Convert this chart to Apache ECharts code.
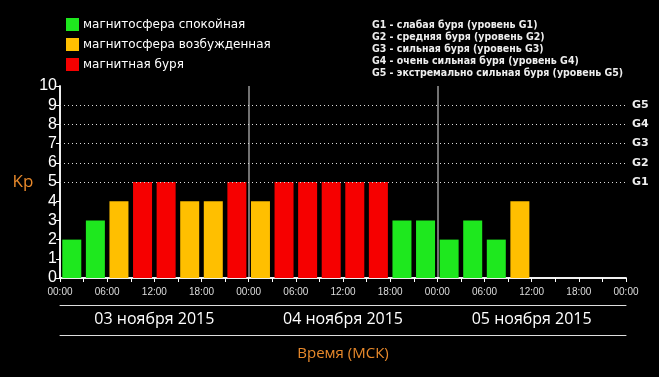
<!DOCTYPE html>
<html>
<head>
	<meta charset="utf-8">
	<title>Kp index</title>
	<style>
		html, body { margin: 0; padding: 0; background: #000; }
	</style>
</head>
<body>
<script type="text/javascript" src="https://cdn.jsdelivr.net/npm/echarts@6/dist/echarts.min.js"></script>
<div id="container" style="width: 659px;height: 377px;"></div>
<script type="text/javascript">
    // Kp значения по 3-часовым интервалам, null = нет данных
    var kpValues = [2, 3, 4, 5, 5, 4, 4, 5,
                    4, 5, 5, 5, 5, 5, 3, 3,
                    2, 3, 2, 4, null, null, null, null];
    var days = ['03 ноября 2015', '04 ноября 2015', '05 ноября 2015'];
    var legendNames = ['магнитосфера спокойная', 'магнитосфера возбужденная', 'магнитная буря'];
    var legendColors = ['#1ee81e', '#ffbf00', '#f60000'];
    var gLevels = [5, 6, 7, 8, 9];
    var gNotes = [
        'G1 - слабая буря (уровень G1)',
        'G2 - средняя буря (уровень G2)',
        'G3 - сильная буря (уровень G3)',
        'G4 - очень сильная буря (уровень G4)',
        'G5 - экстремально сильная буря (уровень G5)'
    ];

    var myChart = echarts.init(document.getElementById('container'));
    var option;

    function level(v) {
        if (v >= 5) return 2;
        if (v == 4) return 1;
        return 0;
    }

    var series = legendNames.map(function (name, k) {
        var data = [];
        kpValues.forEach(function (v, i) {
            if (v != null && level(v) == k) data.push([i * 3 + 1.5, v]);
        });
        return {
            name: name,
            type: 'bar',
            xAxisIndex: 0,
            yAxisIndex: 0,
            barWidth: 19,
            barGap: '-100%',
            itemStyle: { color: legendColors[k] },
            data: data
        };
    });
    // пунктирные уровни G1..G5
    series[0].markLine = {
        silent: true,
        symbol: 'none',
        label: { show: false },
        lineStyle: { color: '#ddd', type: [1, 3], width: 1 },
        data: gLevels.map(function (g) { return { yAxis: g }; })
    };

    var white = '#fff';
    option = {
        backgroundColor: '#000',
        animation: false,
        textStyle: { fontFamily: 'DejaVu Sans' },
        title: {
            text: gNotes.join('\n'),
            left: 367,
            top: 14,
            textStyle: { color: '#eee', fontSize: 10.5, fontWeight: 'bold', lineHeight: 12, fontFamily: 'DejaVu Sans Condensed' }
        },
        legend: {
            orient: 'vertical',
            left: 61,
            top: 13,
            icon: 'rect',
            itemWidth: 13,
            itemHeight: 13,
            itemGap: 7,
            selectedMode: false,
            textStyle: { color: white, fontSize: 12, fontFamily: 'DejaVu Sans', padding: [0, 0, 0, -1] },
            data: legendNames
        },
        grid: { left: 60, right: 33, top: 86, bottom: 99 },
        xAxis: [
            {
                type: 'value', position: 'bottom', min: 0, max: 72, interval: 6,
                axisLine: { lineStyle: { color: white, width: 1.5 } },
                axisTick: { show: false },
                splitLine: { show: false },
                axisLabel: {
                    color: '#ddd', fontSize: 10, fontFamily: 'Liberation Sans', margin: 9,
                    formatter: function (v) {
                        var h = v % 24;
                        return (h < 10 ? '0' : '') + h + ':00';
                    }
                }
            },
            {
                type: 'value', position: 'top', min: 0, max: 72, interval: 3,
                axisLine: { lineStyle: { color: white, width: 1.5 } },
                axisTick: { inside: true, length: 4, lineStyle: { color: white } },
                axisLabel: { show: false },
                splitLine: { show: false }
            },
            {
                type: 'value', position: 'bottom', min: 0, max: 72, interval: 24,
                axisLine: { show: false },
                axisTick: { show: false },
                axisLabel: { show: false },
                splitLine: { show: true, showMinLine: false, showMaxLine: false, lineStyle: { color: '#999', width: 1.5 } }
            },
            {
                type: 'category', position: 'bottom', offset: 27, data: days,
                axisLine: { lineStyle: { color: '#ddd', width: 1 } },
                axisTick: { inside: true, length: 3, lineStyle: { color: '#ddd' } },
                axisLabel: { color: white, fontSize: 16, fontFamily: 'Open Sans', margin: 6 }
            },
            {
                type: 'category', position: 'bottom', offset: 57, data: days,
                axisLine: { lineStyle: { color: '#ddd', width: 1 } },
                axisTick: { inside: true, length: 3, lineStyle: { color: '#ddd' } },
                axisLabel: { show: false },
                name: 'Время (МСК)',
                nameLocation: 'middle',
                nameGap: 11,
                nameTextStyle: { color: '#e8892b', fontSize: 15, fontFamily: 'Open Sans' }
            }
        ],
        yAxis: [
            {
                type: 'value', position: 'left', min: 0, max: 10, interval: 1,
                axisLine: { show: true, lineStyle: { color: white, width: 1.5 } },
                axisTick: { show: false },
                splitLine: { show: false },
                axisLabel: { color: white, fontSize: 16, fontFamily: 'Liberation Sans', margin: 3 },
                name: 'Kp',
                nameLocation: 'middle',
                nameRotate: 0,
                nameGap: 15,
                nameTextStyle: { color: '#e8892b', fontSize: 17, fontFamily: 'Open Sans' }
            },
            {
                type: 'value', position: 'right', min: 0, max: 10, interval: 1,
                axisLine: { show: true, lineStyle: { color: white, width: 1.5 } },
                axisTick: { show: true, inside: true, length: 4, lineStyle: { color: white } },
                splitLine: { show: false },
                axisLabel: {
                    color: '#eee', fontSize: 11, fontWeight: 'bold', fontFamily: 'DejaVu Sans', margin: 6,
                    formatter: function (v) {
                        return gLevels.indexOf(v) >= 0 ? 'G' + (v - 4) : '';
                    }
                }
            }
        ],
        series: series
    };

    myChart.setOption(option);
    window.addEventListener('resize', myChart.resize);
</script>
</body>
</html>
